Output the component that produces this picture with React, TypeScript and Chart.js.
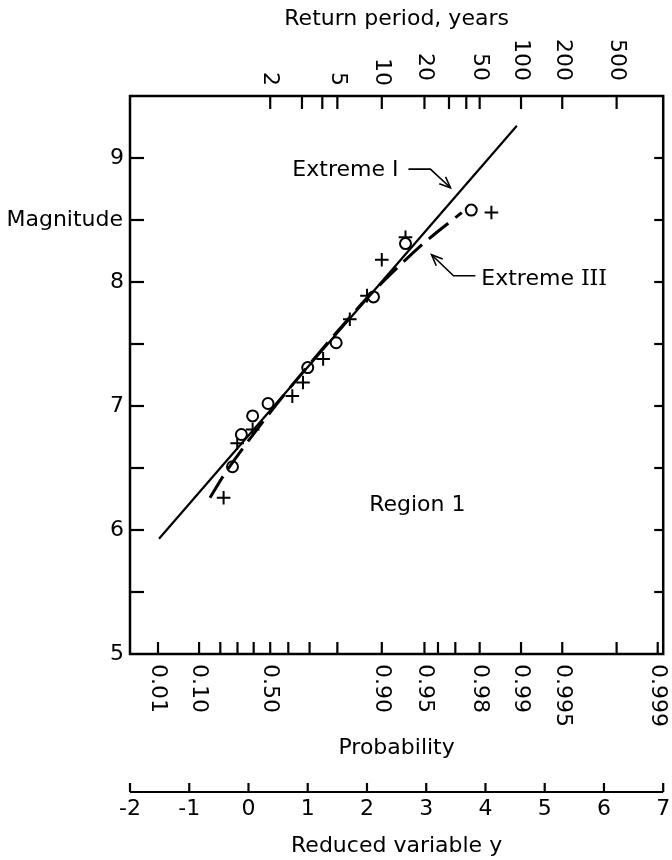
import React, { useEffect, useRef } from 'react';
import { Chart, registerables } from 'chart.js';

Chart.register(...registerables);

// ---- data (x = reduced variable y, value = magnitude) ----
const circleX = [-0.27, -0.12, 0.07, 0.33, 1.0, 1.48, 2.11, 2.65, 3.76];
const circleM = [6.51, 6.77, 6.92, 7.02, 7.31, 7.51, 7.88, 8.31, 8.58];
const plusX = [-0.42, -0.19, 0.07, 0.74, 0.92, 1.26, 1.71, 2.0, 2.25, 2.65, 4.1];
const plusM = [6.26, 6.7, 6.81, 7.08, 7.19, 7.38, 7.7, 7.89, 8.18, 8.36, 8.56];
const extremeIX = [-1.51, 4.53];
const extremeIM = [5.93, 9.26];
const extremeIIIX = [-0.65, -0.42, -0.2, 0, 0.5, 1, 1.5, 2, 2.5, 3, 3.6];
const extremeIIIM = [6.26, 6.44, 6.59, 6.72, 7.03, 7.32, 7.6, 7.87, 8.11, 8.33, 8.56];

// ---- axes ----
const magnitudeTicks = [5.5, 6, 6.5, 7, 7.5, 8, 8.5, 9];
const magnitudeLabels = [5, 6, 7, 8, 9];
const reducedTicks = [-2, -1, 0, 1, 2, 3, 4, 5, 6, 7];
const probabilityTicks = [0.01, 0.1, 0.2, 0.3, 0.4, 0.5, 0.6, 0.7, 0.8, 0.9, 0.95, 0.96, 0.97, 0.98, 0.99, 0.995, 0.998, 0.999];
const probabilityLabels = ['0.01', '0.10', '0.50', '0.90', '0.95', '0.98', '0.99', '0.995', '0.999'];
const returnPeriodTicks = [2, 3, 4, 5, 10, 20, 30, 40, 50, 100, 200, 500];
const returnPeriodLabels = ['2', '5', '10', '20', '50', '100', '200', '500'];

const FONT = '22px "DejaVu Sans", sans-serif';
const SERIF = '22px "DejaVu Serif", serif';

const pts = (xs: number[], ys: number[]) => xs.map((x, i) => ({ x, y: ys[i] }));
const gumbel = (p: number) => -Math.log(-Math.log(p));

export default function App() {
  const ref = useRef<HTMLCanvasElement>(null);

  useEffect(() => {
    const canvas = ref.current;
    if (!canvas) return;

    const paper = {
      id: 'gumbelPaper',
      afterDraw(chart: any) {
        const { ctx, chartArea: a, scales } = chart;
        const xs = scales.x;
        const ys = scales.y;
        const px = (v: number) => xs.getPixelForValue(v);
        const py = (v: number) => ys.getPixelForValue(v);
        ctx.save();
        ctx.strokeStyle = '#000';
        ctx.fillStyle = '#000';
        ctx.lineCap = 'butt';

        // frame
        ctx.lineWidth = 2.5;
        ctx.strokeRect(a.left, a.top, a.right - a.left, a.bottom - a.top);

        ctx.lineWidth = 2.2;
        magnitudeTicks.forEach((m) => {
          const y = py(m);
          ctx.beginPath();
          ctx.moveTo(a.left, y);
          ctx.lineTo(a.left + 14, y);
          ctx.stroke();
          ctx.beginPath();
          ctx.moveTo(a.right, y);
          ctx.lineTo(a.right - 9, y);
          ctx.stroke();
        });
        ctx.font = FONT;
        ctx.textAlign = 'right';
        ctx.textBaseline = 'middle';
        magnitudeLabels.forEach((m) => ctx.fillText(String(m), a.left - 6, py(m)));
        ctx.fillText('Magnitude', a.left - 7, py(8.5));

        // bottom probability ticks (inward) + rotated labels
        probabilityTicks.forEach((p) => {
          const x = px(gumbel(p));
          ctx.beginPath();
          ctx.moveTo(x, a.bottom);
          ctx.lineTo(x, a.bottom - 12);
          ctx.stroke();
        });
        ctx.textAlign = 'left';
        probabilityLabels.forEach((lab) => {
          const x = px(gumbel(parseFloat(lab)));
          ctx.save();
          ctx.translate(x, a.bottom + 10);
          ctx.rotate(Math.PI / 2);
          ctx.fillText(lab, 0, 0);
          ctx.restore();
        });

        // top return period ticks (inward) + rotated labels
        returnPeriodTicks.forEach((t) => {
          const x = px(gumbel(1 - 1 / t));
          ctx.beginPath();
          ctx.moveTo(x, a.top);
          ctx.lineTo(x, a.top + 13);
          ctx.stroke();
        });
        ctx.textAlign = 'right';
        returnPeriodLabels.forEach((lab) => {
          const t = parseFloat(lab);
          const x = px(gumbel(1 - 1 / t));
          ctx.save();
          ctx.translate(x, a.top - (t < 15 ? 10 : 15));
          ctx.rotate(Math.PI / 2);
          ctx.fillText(lab, 0, 0);
          ctx.restore();
        });

        // titles
        ctx.textAlign = 'center';
        ctx.fillText('Return period, years', (a.left + a.right) / 2, 19);
        ctx.fillText('Probability', (a.left + a.right) / 2, 748);

        // reduced variable axis
        const axY = 792;
        ctx.beginPath();
        ctx.moveTo(px(-2), axY);
        ctx.lineTo(px(7), axY);
        ctx.stroke();
        reducedTicks.forEach((v) => {
          ctx.beginPath();
          ctx.moveTo(px(v), axY);
          ctx.lineTo(px(v), axY - 9);
          ctx.stroke();
          ctx.fillText(String(v), px(v), axY + 17);
        });
        ctx.fillText('Reduced variable y', (a.left + a.right) / 2, 846);

        // annotations
        ctx.textAlign = 'left';
        ctx.fillText('Extreme I', px(0.74), py(8.9));
        ctx.fillText('Extreme', px(3.93), py(8.02));
        const w = ctx.measureText('Extreme ').width;
        ctx.font = SERIF;
        ctx.fillText('III', px(3.93) + w, py(8.02));
        ctx.font = FONT;
        ctx.textAlign = 'center';
        ctx.fillText('Region 1', px(2.85), py(6.2));

        const arrow = (path: number[][]) => {
          ctx.lineWidth = 1.6;
          ctx.beginPath();
          path.forEach(([x, y], i) => (i ? ctx.lineTo(px(x), py(y)) : ctx.moveTo(px(x), py(y))));
          ctx.stroke();
          const [x1, y1] = path[path.length - 2];
          const [x2, y2] = path[path.length - 1];
          const ang = Math.atan2(py(y2) - py(y1), px(x2) - px(x1));
          const hx = px(x2);
          const hy = py(y2);
          ctx.beginPath();
          ctx.moveTo(hx - 12 * Math.cos(ang - 0.4), hy - 12 * Math.sin(ang - 0.4));
          ctx.lineTo(hx, hy);
          ctx.lineTo(hx - 12 * Math.cos(ang + 0.4), hy - 12 * Math.sin(ang + 0.4));
          ctx.stroke();
        };
        arrow([[2.7, 8.91], [3.07, 8.91], [3.41, 8.76]]);
        arrow([[3.83, 8.05], [3.46, 8.05], [3.09, 8.22]]);

        ctx.restore();
      },
    };

    const chart = new Chart(canvas, {
      type: 'scatter',
      data: {
        datasets: [
          {
            label: 'Extreme I',
            data: pts(extremeIX, extremeIM),
            showLine: true,
            borderColor: '#000',
            borderWidth: 2.2,
            pointRadius: 0,
          },
          {
            label: 'Extreme III',
            data: pts(extremeIIIX, extremeIIIM),
            showLine: true,
            borderColor: '#000',
            borderWidth: 3,
            borderDash: [25, 9],
            cubicInterpolationMode: 'monotone',
            pointRadius: 0,
          },
          {
            label: 'circles',
            data: pts(circleX, circleM),
            pointStyle: 'circle',
            pointRadius: 5.5,
            pointBackgroundColor: '#fff',
            pointBorderColor: '#000',
            pointBorderWidth: 2,
          },
          {
            label: 'crosses',
            data: pts(plusX, plusM),
            pointStyle: 'cross',
            pointRadius: 6.8,
            pointBorderColor: '#000',
            pointBorderWidth: 2,
          },
        ],
      },
      options: {
        animation: false,
        responsive: false,
        maintainAspectRatio: false,
        layout: { padding: { left: 130, right: 6, top: 96, bottom: 206 } },
        plugins: { legend: { display: false }, tooltip: { enabled: false } },
        scales: {
          x: { type: 'linear', min: -2, max: 7, display: false },
          y: { type: 'linear', min: 5, max: 9.5, display: false },
        },
      },
      plugins: [paper],
    } as any);

    return () => chart.destroy();
  }, []);

  return (
    <div style={{ position: 'absolute', left: 0, top: 0, width: 672, height: 860, background: '#fff' }}>
      <canvas ref={ref} width={672} height={860} style={{ display: 'block' }} />
    </div>
  );
}
